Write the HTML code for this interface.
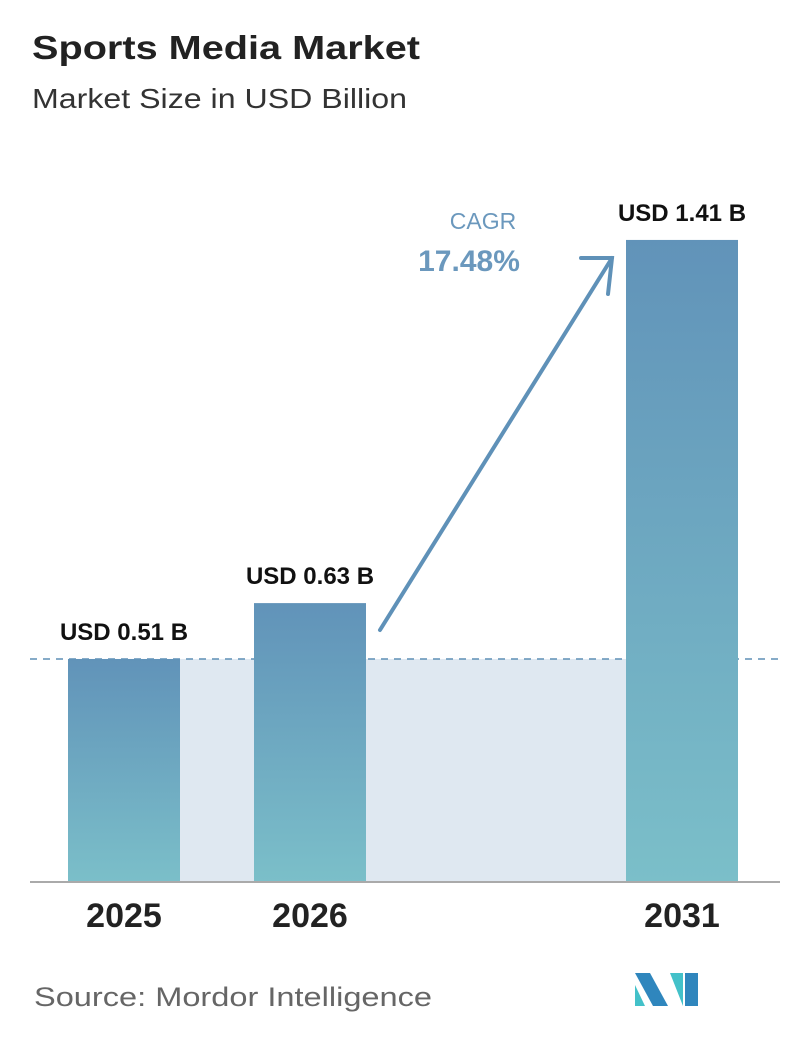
<!DOCTYPE html>
<html><head><meta charset="utf-8"><style>
body{margin:0;background:#fff;font-family:"Liberation Sans","DejaVu Sans",sans-serif}
</style></head><body>
<svg width="796" height="1034" viewBox="0 0 796 1034">
<defs><linearGradient id="g" x1="0" y1="0" x2="0" y2="1"><stop offset="0" stop-color="#6193b9"/><stop offset="1" stop-color="#7bbfc9"/></linearGradient></defs>
<text x="32" y="59" font-size="33" font-weight="bold" fill="#222" textLength="388" lengthAdjust="spacingAndGlyphs">Sports Media Market</text>
<text x="32" y="108" font-size="28" fill="#333" textLength="375" lengthAdjust="spacingAndGlyphs">Market Size in USD Billion</text>
<g id="plot"></g>
<text x="483" y="229" font-size="23" fill="#6b98bd" text-anchor="middle">CAGR</text>
<text x="469" y="271" font-size="30" font-weight="bold" fill="#6b98bd" text-anchor="middle">17.48%</text>
<g stroke="#5f91b8" stroke-width="4" stroke-linecap="round" fill="none">
<line x1="380" y1="630" x2="612" y2="258"/><polyline points="581,258 612,258 608,294"/></g>
<text x="34" y="1006" font-size="27" fill="#666" textLength="398" lengthAdjust="spacingAndGlyphs">Source:  Mordor Intelligence</text>
<g>
<polygon points="635,973 650,973 668,1006 653,1006" fill="#2f86bd"/>
<polygon points="635,985 645,1006 635,1006" fill="#43c1c9"/>
<polygon points="670,973 683,973 683,1006" fill="#43c1c9"/>
<polygon points="685,973 698,973 698,1006 685,1006" fill="#2f86bd"/>
</g>
</svg>
<script>
const categories=["2025","2026","2031"];
const values=[0.51,0.63,1.41];
const valueLabels=["USD 0.51 B","USD 0.63 B","USD 1.41 B"];
const ns="http://www.w3.org/2000/svg";
const plot=document.getElementById('plot');
const base=882,k=465.6,v0=0.031;
const barX=[68,254,626],bw=112;
function y(v){return base-k*(v-v0);}
function mk(t,a){const e=document.createElementNS(ns,t);for(const n in a)e.setAttribute(n,a[n]);plot.appendChild(e);return e;}
const refY=y(values[0]);
const sh=mk('rect',{x:barX[0]+bw,y:refY,width:barX[2]-barX[0]-bw,height:base-refY,fill:'#dfe8f1'});


const dl=mk('line',{x1:30,x2:780,y1:refY,y2:refY,stroke:'#5f8fb5','stroke-width':1.5,'stroke-dasharray':'7,6'});


categories.forEach((c,i)=>{
 const top=y(values[i]);
 const r=mk('rect',{x:barX[i],y:top,width:bw,height:base-top,fill:'url(#g)'});
 
 
 const t=mk('text',{x:barX[i]+bw/2,y:top-19,'font-size':24,'font-weight':'bold',fill:'#111','text-anchor':'middle'});
 t.textContent=valueLabels[i];
 
 
 const xl=mk('text',{x:barX[i]+bw/2,y:927,'font-size':34,'font-weight':'bold',fill:'#222','text-anchor':'middle'});
 xl.textContent=c;
 
 
});
const ax=mk('line',{x1:30,x2:780,y1:base,y2:base,stroke:'#aaa','stroke-width':2});


</script>
</body></html>
